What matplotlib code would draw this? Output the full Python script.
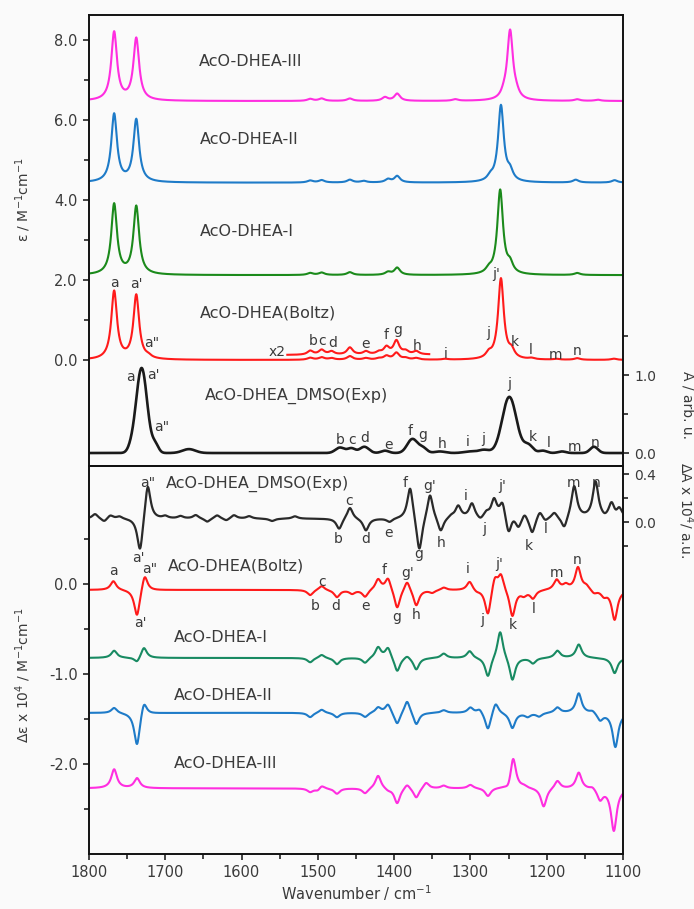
import numpy as np
import matplotlib
matplotlib.use("Agg")
import matplotlib.pyplot as plt
from matplotlib.ticker import FixedLocator

plt.rcParams['font.family'] = ['DejaVu Sans']

# ---------------- data (band positions / heights) -------------
wn = np.linspace(1800, 1100, 1401)

# IR, calculated (epsilon / M^-1 cm^-1), relative to each trace's baseline
ir_boltz_pos = [1767, 1738, 1722, 1510, 1495, 1482, 1458, 1437, 1420, 1410, 1397, 1385, 1371, 1333, 1276, 1260, 1246, 1220, 1187, 1160, 1112]
ir_boltz_amp = [1.70, 1.60, 0.05, 0.05, 0.06, 0.04, 0.09, 0.04, 0.03, 0.09, 0.17, 0.04, 0.04, 0.02, 0.12, 2.02, 0.18, 0.03, 0.02, 0.04, 0.03]
ir_I_pos = [1767, 1738, 1510, 1495, 1458, 1408, 1396, 1276, 1261, 1248, 1160]
ir_I_amp = [1.76, 1.70, 0.05, 0.06, 0.07, 0.07, 0.18, 0.10, 2.11, 0.22, 0.05]
ir_II_pos = [1767, 1738, 1510, 1495, 1458, 1440, 1408, 1396, 1274, 1260, 1248, 1162, 1111]
ir_II_amp = [1.70, 1.56, 0.05, 0.06, 0.07, 0.04, 0.08, 0.16, 0.10, 1.91, 0.22, 0.07, 0.06]
ir_III_pos = [1767, 1738, 1510, 1495, 1458, 1412, 1396, 1320, 1256, 1248, 1240, 1160, 1133]
ir_III_amp = [1.71, 1.55, 0.05, 0.06, 0.06, 0.09, 0.18, 0.04, 0.10, 1.74, 0.10, 0.04, 0.03]
ir_offsets = [0.0, 2.12, 4.43, 6.47]   # Boltz, I, II, III

# IR experiment (A / arb. u.), band half widths in cm-1
ir_exp_pos = [1745, 1731, 1713, 1669, 1471, 1456, 1439, 1412, 1376, 1362, 1340, 1300, 1282, 1249, 1224, 1205, 1180, 1138]
ir_exp_amp = [0.04, 1.09, 0.10, 0.05, 0.07, 0.06, 0.08, 0.03, 0.18, 0.06, 0.02, 0.02, 0.04, 0.72, 0.10, 0.03, 0.02, 0.08]
ir_exp_hw = [5, 8.5, 5, 10, 7, 6, 7, 6, 8, 6, 8, 10, 8, 11, 7, 6, 6, 6]

# VCD, calculated (delta-epsilon x 1e4), relative to each baseline
vcd_boltz_pos = [1768, 1737, 1727, 1510, 1495, 1475, 1455, 1438, 1421, 1408, 1396, 1383, 1371, 1350, 1335, 1301, 1292, 1277, 1268, 1260, 1245, 1230, 1218, 1187, 1175, 1159, 1148, 1138, 1125, 1111]
vcd_boltz_amp = [0.10, -0.31, 0.19, -0.06, 0.05, -0.08, -0.04, -0.08, 0.12, 0.14, -0.22, 0.12, -0.18, -0.03, 0.03, 0.10, -0.02, -0.30, 0.16, 0.18, -0.30, -0.05, -0.09, 0.11, 0.05, 0.25, 0.04, -0.04, -0.06, -0.33]
vcd_I_pos = [1767, 1737, 1728, 1510, 1495, 1475, 1438, 1421, 1408, 1396, 1383, 1371, 1335, 1301, 1277, 1261, 1245, 1218, 1186, 1158, 1111]
vcd_I_amp = [0.08, -0.06, 0.12, -0.05, 0.04, -0.07, -0.06, 0.12, 0.12, -0.16, 0.04, -0.13, 0.05, 0.08, -0.22, 0.32, -0.26, -0.06, 0.08, 0.15, -0.17]
vcd_II_pos = [1767, 1737, 1728, 1510, 1495, 1475, 1438, 1421, 1408, 1396, 1383, 1371, 1335, 1300, 1288, 1277, 1267, 1245, 1225, 1210, 1186, 1158, 1140, 1130, 1110]
vcd_II_amp = [0.06, -0.38, 0.16, -0.05, 0.04, -0.05, -0.05, 0.06, 0.10, -0.14, 0.15, -0.14, 0.03, 0.06, 0.05, -0.20, 0.13, -0.17, -0.04, -0.04, 0.06, 0.22, 0.03, -0.08, -0.38]
vcd_III_pos = [1767, 1737, 1510, 1500, 1495, 1475, 1438, 1421, 1408, 1396, 1383, 1371, 1358, 1335, 1300, 1277, 1250, 1244, 1230, 1204, 1186, 1158, 1140, 1130, 1112]
vcd_III_amp = [0.21, 0.11, -0.04, -0.03, 0.04, -0.06, -0.06, 0.15, -0.02, -0.17, 0.06, -0.11, 0.07, 0.03, 0.04, -0.09, -0.06, 0.35, 0.02, -0.21, 0.09, 0.18, 0.03, -0.12, -0.47]
vcd_offsets = [-0.063, -0.82, -1.43, -2.27]   # Boltz, I, II, III

# VCD experiment (delta-A x 1e4 / a.u.)
vcd_exp_pos = [1792, 1780, 1772, 1760, 1733, 1723, 1700, 1680, 1660, 1645, 1632, 1620, 1610, 1590, 1560, 1530, 1472, 1458, 1437, 1406, 1379, 1367, 1353, 1339, 1325, 1316, 1298, 1287, 1279, 1269, 1258, 1250, 1244, 1237, 1229, 1219, 1209, 1202, 1190, 1177, 1164, 1150, 1136, 1124, 1115, 1109, 1105]
vcd_exp_amp = [0.04, -0.03, 0.03, 0.02, -0.30, 0.31, 0.02, 0.02, 0.03, -0.03, 0.03, -0.02, 0.03, 0.02, -0.02, 0.02, -0.09, 0.10, -0.10, -0.03, 0.28, -0.30, 0.22, -0.12, 0.02, 0.10, 0.12, -0.03, 0.04, 0.15, 0.14, -0.15, 0.03, -0.08, 0.06, -0.13, 0.07, -0.03, 0.05, -0.10, 0.27, 0.00, 0.30, -0.02, 0.12, -0.02, 0.08]
vcd_exp_base = 0.03

# x2 magnified Boltz segment
x2_range = (1540, 1354)
x2_factor = 2.0
x2_offset = 0.12

# ---------------- helpers ----------------
def lorentz_sum(pos, amp, hw):
    y = np.zeros_like(wn)
    for p, a in zip(pos, amp):
        y += a / (1.0 + ((wn - p) / hw) ** 2)
    return y

def gauss_sum(pos, amp, hws):
    y = np.zeros_like(wn)
    for p, a, w in zip(pos, amp, hws):
        y += a * np.exp(-np.log(2) * ((wn - p) / w) ** 2)
    return y

col_red = '#ff1a1a'
col_green_ir = '#1b8a1b'
col_green_vcd = '#188a62'
col_blue = '#1e7bc8'
col_mag = '#ff2ee0'
col_black = '#1a1a1a'
txt_col = '#3a3a3a'

fig = plt.figure(figsize=(6.94, 9.09), dpi=100, facecolor='#fafafa')
ax1 = fig.add_axes([0.1282, 0.4873, 0.7695, 0.4962])
ax2 = fig.add_axes([0.1282, 0.0605, 0.7695, 0.4268])
for a in (ax1, ax2):
    a.set_facecolor('#fafafa')
ax1r = ax1.twinx()
ax2r = ax2.twinx()

lw = 1.5
HW_CALC = 4.5
# ---------------- top: IR ----------------
ir_sets = [(ir_boltz_pos, ir_boltz_amp, col_red),
           (ir_I_pos, ir_I_amp, col_green_ir),
           (ir_II_pos, ir_II_amp, col_blue),
           (ir_III_pos, ir_III_amp, col_mag)]
ir_boltz_curve = None
for (p, a, c), off in zip(ir_sets, ir_offsets):
    y = lorentz_sum(p, a, HW_CALC) + off
    if c == col_red:
        ir_boltz_curve = y
    ax1.plot(wn, y, color=c, lw=lw)
m = (wn <= x2_range[0]) & (wn >= x2_range[1])
ax1.plot(wn[m], ir_boltz_curve[m] * x2_factor + x2_offset, color=col_red, lw=lw)

ir_exp = gauss_sum(ir_exp_pos, ir_exp_amp, ir_exp_hw)
ax1r.plot(wn, ir_exp, color=col_black, lw=1.9)

ax1.set_xlim(1800, 1100)
ax1.set_ylim(-2.65, 8.62)
ax1r.set_ylim(-0.167, 5.615)

# ---------------- bottom: VCD ----------------
vcd_sets = [(vcd_boltz_pos, vcd_boltz_amp, col_red),
            (vcd_I_pos, vcd_I_amp, col_green_vcd),
            (vcd_II_pos, vcd_II_amp, col_blue),
            (vcd_III_pos, vcd_III_amp, col_mag)]
for (p, a, c), off in zip(vcd_sets, vcd_offsets):
    ax2.plot(wn, lorentz_sum(p, a, HW_CALC) + off, color=c, lw=lw)
vcd_exp = lorentz_sum(vcd_exp_pos, vcd_exp_amp, 4.5) + vcd_exp_base
ax2r.plot(wn, vcd_exp, color='#2a2a2a', lw=1.6)

ax2.set_xlim(1800, 1100)
ax2.set_ylim(-3.0, 1.314)
ax2r.set_ylim(-2.746, 0.466)

# ---------------- ticks & spines ----------------
for a in (ax1, ax1r, ax2, ax2r):
    for s in a.spines.values():
        s.set_linewidth(1.2)
        s.set_color('#111111')
    a.tick_params(which='both', direction='out', color='#111111', width=1.1,
                  labelsize=10.5, labelcolor=txt_col)
    a.tick_params(which='major', length=4.5)
    a.tick_params(which='minor', length=3.5)

ax1.set_xticks([])
ax1.tick_params(axis='x', which='both', bottom=False, labelbottom=False)
ax1.yaxis.set_major_locator(FixedLocator([0, 2, 4, 6, 8]))
ax1.yaxis.set_minor_locator(FixedLocator([1, 3, 5, 7]))
ax1.set_yticklabels(['0.0', '2.0', '4.0', '6.0', '8.0'])
ax1r.yaxis.set_major_locator(FixedLocator([0.0, 1.0]))
ax1r.yaxis.set_minor_locator(FixedLocator([0.5, 1.5]))
ax1r.set_yticklabels(['0.0', '1.0'])

ax2.xaxis.set_major_locator(FixedLocator([1800, 1700, 1600, 1500, 1400, 1300, 1200, 1100]))
ax2.xaxis.set_minor_locator(FixedLocator([1750, 1650, 1550, 1450, 1350, 1250, 1150]))
ax2.set_xticklabels(['1800', '1700', '1600', '1500', '1400', '1300', '1200', '1100'])
ax2.yaxis.set_major_locator(FixedLocator([-2.0, -1.0, 0.0]))
ax2.yaxis.set_minor_locator(FixedLocator([-2.5, -1.5, -0.5, 0.5]))
ax2.set_yticklabels(['-2.0', '-1.0', '0.0'])
ax2r.yaxis.set_major_locator(FixedLocator([0.0, 0.4]))
ax2r.yaxis.set_minor_locator(FixedLocator([-0.2, 0.2]))
ax2r.set_yticklabels(['0.0', '0.4'])
ax2r.tick_params(axis='y', labelsize=10)
ax1r.tick_params(axis='y', labelsize=10)

# ---------------- axis labels ----------------
fig.text(0.033, 1 - 200 / 909, 'ε / M$^{-1}$cm$^{-1}$', rotation=90,
         ha='center', va='center', fontsize=10, color=txt_col)
fig.text(0.033, 1 - 675 / 909, 'Δε x 10$^4$ / M$^{-1}$cm$^{-1}$', rotation=90,
         ha='center', va='center', fontsize=10, color=txt_col)
fig.text(687 / 694, 1 - 405 / 909, 'A / arb. u.', rotation=270,
         ha='center', va='center', fontsize=10, color=txt_col)
fig.text(686 / 694, 1 - 510 / 909, 'ΔA x 10$^4$/ a.u.', rotation=270,
         ha='center', va='center', fontsize=10, color=txt_col)
fig.text(356 / 694, 1 - 893 / 909, 'Wavenumber / cm$^{-1}$',
         ha='center', va='center', fontsize=10.5, color=txt_col)

# ---------------- series names ----------------
name_kw = dict(fontsize=11.5, color=txt_col, ha='left', va='center')
ax1.text(1656, 7.45, 'AcO-DHEA-III', **name_kw)
ax1.text(1655, 5.50, 'AcO-DHEA-II', **name_kw)
ax1.text(1654, 3.20, 'AcO-DHEA-I', **name_kw)
ax1.text(1654, 1.17, 'AcO-DHEA(Boltz)', **name_kw)
ax1.text(1648, -0.89, 'AcO-DHEA_DMSO(Exp)', **name_kw)
ax2.text(1699, 1.12, 'AcO-DHEA_DMSO(Exp)', **name_kw)
ax2.text(1697, 0.20, 'AcO-DHEA(Boltz)', **name_kw)
ax2.text(1689, -0.59, 'AcO-DHEA-I', **name_kw)
ax2.text(1689, -1.24, 'AcO-DHEA-II', **name_kw)
ax2.text(1689, -1.99, 'AcO-DHEA-III', **name_kw)

# ---------------- band letters ----------------
lab_kw = dict(fontsize=10, color=txt_col, ha='center', va='center')
top_labels = [
    ('a', 1767, 1.93), ("a'", 1737.5, 1.90), ('a"', 1718, 0.42), ('x2', 1554, 0.21),
    ('b', 1506, 0.48), ('c', 1494, 0.48), ('d', 1480, 0.43), ('e', 1437, 0.39),
    ('f', 1410, 0.62), ('g', 1395.5, 0.75), ('h', 1370.5, 0.35), ('i', 1333, 0.15),
    ('j', 1277, 0.67), ("j'", 1266, 2.15), ('k', 1242, 0.46), ('l', 1221, 0.25),
    ('m', 1188, 0.12), ('n', 1160, 0.23),
    ('a', 1745, -0.43), ("a'", 1715, -0.375), ('a"', 1705, -1.67),
    ('b', 1471, -2.0), ('c', 1454.5, -2.0), ('d', 1438, -1.96), ('e', 1408, -2.12),
    ('f', 1379, -1.78), ('g', 1362, -1.87), ('h', 1337, -2.1), ('i', 1303, -2.04),
    ('j', 1283, -1.98), ('j', 1249, -0.61), ('k', 1218, -1.92), ('l', 1198, -2.08),
    ('m', 1164, -2.18), ('n', 1137, -2.07),
]
for t, x, y in top_labels:
    ax1.text(x, y, t, **lab_kw)

bot_labels = [
    ('a"', 1723, 1.13), ("a'", 1735, 0.29), ('b', 1473, 0.50), ('c', 1459, 0.93),
    ('d', 1437, 0.50), ('e', 1408, 0.57), ('f', 1385, 1.12), ('g', 1367.5, 0.34),
    ("g'", 1353, 1.09), ('h', 1338, 0.46), ('i', 1306, 0.98), ('j', 1282, 0.61),
    ("j'", 1258, 1.09), ('k', 1223, 0.43), ('l', 1202, 0.61), ('m', 1165, 1.13),
    ('n', 1135.6, 1.13),
    ('a', 1768, 0.15), ('a"', 1721, 0.17), ("a'", 1733, -0.43), ('b', 1503, -0.24),
    ('c', 1494, 0.03), ('d', 1476, -0.24), ('e', 1438, -0.24), ('f', 1413, 0.16),
    ('g', 1396, -0.36), ("g'", 1382, 0.13), ('h', 1371.5, -0.34), ('i', 1304, 0.17),
    ('j', 1284, -0.40), ("j'", 1262, 0.23), ('k', 1244, -0.45), ('l', 1217, -0.28),
    ('m', 1187, 0.13), ('n', 1160, 0.27),
]
for t, x, y in bot_labels:
    ax2.text(x, y, t, **lab_kw)

fig.savefig('out.png', dpi=100, facecolor=fig.get_facecolor())
